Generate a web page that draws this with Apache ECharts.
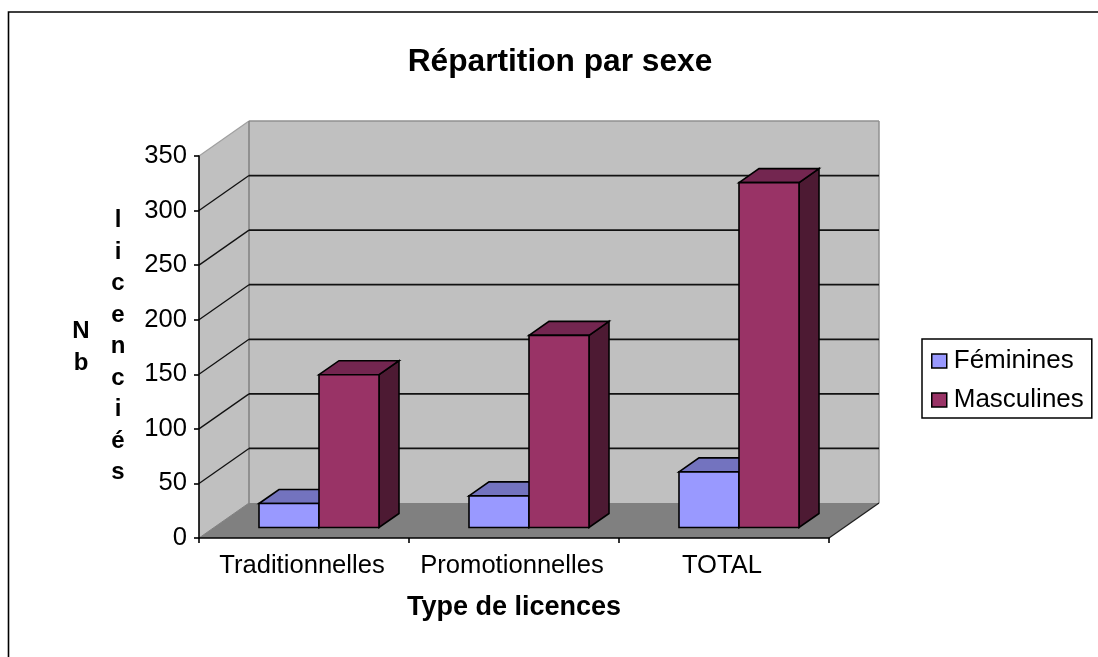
<!DOCTYPE html>
<html>
<head>
<meta charset="utf-8">
<style>html,body{margin:0;padding:0;background:#fff}#c{width:1098px;height:657px}</style>
<script src="https://cdn.jsdelivr.net/npm/echarts@6/dist/echarts.min.js"></script>
</head>
<body>
<div id="c"></div>
<script>
var categories = ['Traditionnelles', 'Promotionnelles', 'TOTAL'];
var feminines = [22, 29, 51];
var masculines = [140, 176, 316];
var yTicks = [0, 50, 100, 150, 200, 250, 300, 350];

var FONT = '"Liberation Sans", Arial, sans-serif';
var DEPTH = [50, -35];        // floor depth in pixels (projection)
var BAR_NEAR = 0.3, BAR_FAR = 0.7; // bar position within the depth
var INK = '#000';

function poly(points, fill, stroke, w) {
  return {
    type: 'polygon',
    shape: { points: points },
    style: { fill: fill, stroke: stroke || null, lineWidth: w || 0, lineJoin: 'miter' }
  };
}
function line(a, b, stroke, w) {
  return {
    type: 'line',
    shape: { x1: a[0], y1: a[1], x2: b[0], y2: b[1] },
    style: { stroke: stroke, lineWidth: w, fill: null }
  };
}

function renderWalls(params, api) {
  var cs = params.coordSys;
  var x0 = cs.x, x1 = cs.x + cs.width, y0 = cs.y, y1 = cs.y + cs.height;
  var dx = DEPTH[0], dy = DEPTH[1];
  var v = api.value(0);
  var y = api.coord([0, v])[1];
  var kids = [];
  if (params.dataIndex === 0) {
    kids.push(poly([[x0, y0], [x0 + dx, y0 + dy], [x0 + dx, y1 + dy], [x0, y1]], '#C0C0C0'));
    kids.push(poly([[x0 + dx, y0 + dy], [x1 + dx, y0 + dy], [x1 + dx, y1 + dy], [x0 + dx, y1 + dy]], '#C0C0C0'));
    kids.push(poly([[x0, y1], [x0 + dx, y1 + dy], [x1 + dx, y1 + dy], [x1, y1]], '#808080'));
    kids.push(line([x0, y0], [x0 + dx, y0 + dy], '#A0A0A0', 1.2));
    kids.push(line([x0 + dx, y0 + dy], [x1 + dx, y0 + dy], '#909090', 1.5));
    kids.push(line([x0 + dx, y0 + dy], [x0 + dx, y1 + dy], '#808080', 1.5));
    kids.push(line([x1 + dx, y0 + dy], [x1 + dx, y1 + dy], '#909090', 1.5));
    kids.push(line([x1, y1], [x1 + dx, y1 + dy], '#202020', 1.3));
    kids.push(line([x0, y1], [x0 + dx, y1 + dy], '#808080', 1));
  }
  if (v > 0 && v < 350) {
    kids.push(line([x0, y], [x0 + dx, y + dy], '#111', 1.3));
    kids.push(line([x0 + dx, y + dy], [x1 + dx, y + dy], '#111', 1.7));
  }
  return { type: 'group', children: kids };
}

function barRenderer(slot, front, top, side) {
  return function (params, api) {
    var i = api.value(0);
    var tp = api.coord([i, api.value(1)]);
    var bt = api.coord([i, 0]);
    var w = api.size([1, 0])[0] * 2 / 7;
    var sx = DEPTH[0] * BAR_NEAR, sy = DEPTH[1] * BAR_NEAR;
    var ox = DEPTH[0] * (BAR_FAR - BAR_NEAR), oy = DEPTH[1] * (BAR_FAR - BAR_NEAR);
    var l = tp[0] + sx + slot * w, r = l + w;
    var t = tp[1] + sy, b = bt[1] + sy;
    return {
      type: 'group',
      children: [
        poly([[r, t], [r + ox, t + oy], [r + ox, b + oy], [r, b]], side, INK, 1.6),
        poly([[l, t], [l + ox, t + oy], [r + ox, t + oy], [r, t]], top, INK, 1.6),
        poly([[l, t], [r, t], [r, b], [l, b]], front, INK, 1.6)
      ]
    };
  };
}

function pairs(arr) { return arr.map(function (v, i) { return [i, v]; }); }

var chart = echarts.init(document.getElementById('c'), null, { renderer: 'canvas' });
chart.setOption({
  animation: false,
  backgroundColor: '#fff',
  title: [
    { text: 'Répartition par sexe', left: 560, top: 46, textAlign: 'center', padding: 0,
      textStyle: { fontFamily: FONT, fontSize: 31.7, fontWeight: 'bold', color: '#000' } },
    { text: 'N\nb', left: 81, top: 315, textAlign: 'center', padding: 0,
      textStyle: { fontFamily: FONT, fontSize: 24, fontWeight: 'bold', color: '#000', lineHeight: 32 } },
    { text: 'l\ni\nc\ne\nn\nc\ni\né\ns', left: 118, top: 205, textAlign: 'center', padding: 0,
      textStyle: { fontFamily: FONT, fontSize: 24, fontWeight: 'bold', color: '#000', lineHeight: 31.5 } }
  ],
  legend: {
    data: ['Féminines', 'Masculines'],
    orient: 'vertical',
    left: 922,
    top: 339,
    padding: [9, 8, 5, 9],
    itemGap: 13,
    itemWidth: 15,
    itemHeight: 14,
    icon: 'rect',
    borderColor: '#000',
    borderWidth: 1.5,
    backgroundColor: '#fff',
    itemStyle: { borderColor: '#000', borderWidth: 1.5 },
    textStyle: { fontFamily: FONT, fontSize: 26, color: '#000', padding: [0, 0, 0, 2] }
  },
  grid: { left: 199, top: 156, width: 630, height: 382, containLabel: false },
  xAxis: {
    type: 'category',
    data: categories,
    z: 10,
    name: 'Type de licences',
    nameLocation: 'middle',
    nameGap: 56,
    nameTextStyle: { fontFamily: FONT, fontSize: 27, fontWeight: 'bold', color: '#000' },
    axisLine: { lineStyle: { color: '#000', width: 1.6 } },
    axisTick: { show: true, length: 5, lineStyle: { color: '#000', width: 1.6 } },
    axisLabel: { fontFamily: FONT, fontSize: 25.6, color: '#000', margin: 15, interval: 0, padding: [0, 4, 0, 0] },
    splitLine: { show: false }
  },
  yAxis: {
    type: 'value',
    min: 0,
    max: 350,
    interval: 50,
    z: 10,
    axisLine: { show: true, lineStyle: { color: '#000', width: 1.6 } },
    axisTick: { show: true, length: 5, lineStyle: { color: '#000', width: 1.6 } },
    axisLabel: { fontFamily: FONT, fontSize: 25.6, color: '#000', margin: 12, padding: [5, 0, 0, 0] },
    splitLine: { show: false }
  },
  series: [
    { type: 'custom', z: 1, silent: true, renderItem: renderWalls, data: yTicks.map(function (t) { return [t]; }),
      encode: { y: 0 }, clip: false },
    { type: 'custom', name: 'Féminines', z: 2, renderItem: barRenderer(-1, '#9999FF', '#7373BF', '#4D4D80'),
      data: pairs(feminines), encode: { x: 0, y: 1 }, itemStyle: { color: '#9999FF' }, clip: false },
    { type: 'custom', name: 'Masculines', z: 3, renderItem: barRenderer(0, '#993366', '#732650', '#4D1A33'),
      data: pairs(masculines), encode: { x: 0, y: 1 }, itemStyle: { color: '#993366' }, clip: false }
  ],
  graphic: [{
    type: 'rect', silent: true, z: 100,
    shape: { x: 8.5, y: 12, width: 1300, height: 900 },
    style: { fill: null, stroke: '#000', lineWidth: 1.6 }
  }]
});
</script>
</body>
</html>
